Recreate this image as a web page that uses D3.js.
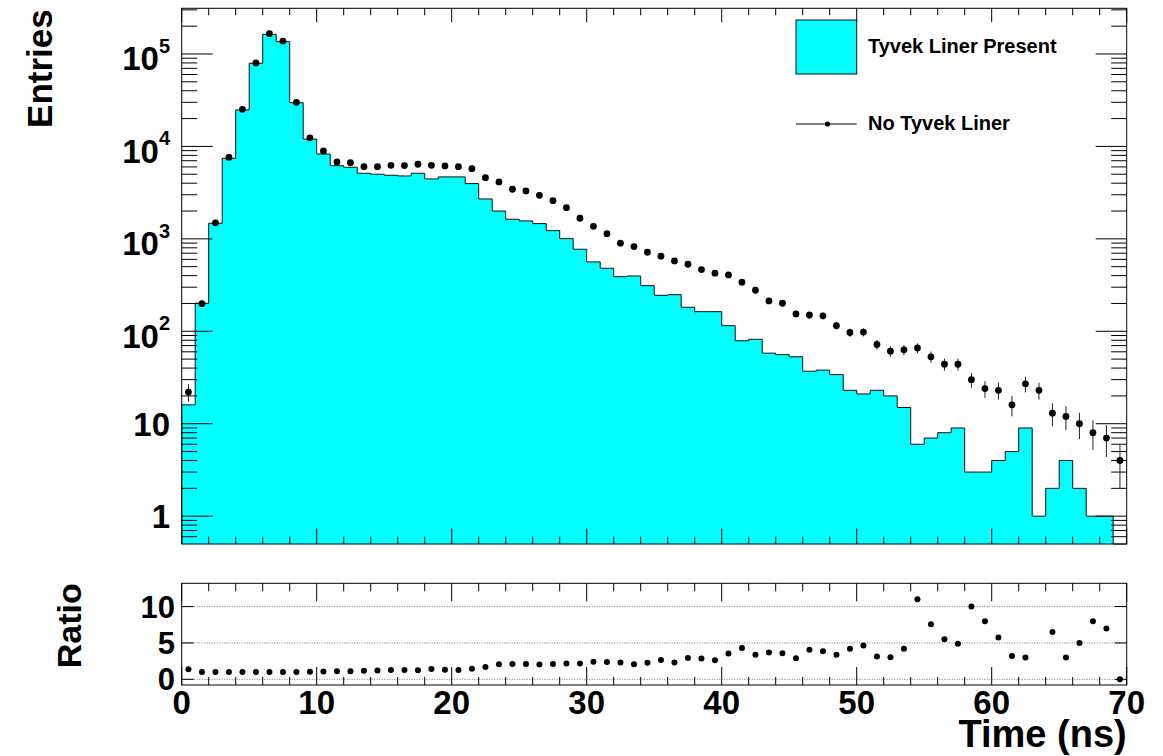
<!DOCTYPE html>
<html>
<head>
<meta charset="utf-8">
<script src="https://cdn.jsdelivr.net/npm/d3@7"></script>
<style>
  body { margin: 0; background: #fff; }
  text { font-family: "Liberation Sans", Arial, Helvetica, sans-serif; font-weight: bold; }
</style>
</head>
<body>
<div id="chart"></div>
<script>
// 1 ns bins from 0 to 70
const binEdges = d3.range(0, 71);

const tyvek = [16, 201, 1476, 7450, 24800, 79300, 163000, 136000, 29700, 12000,
    8280, 6190, 5950, 5120, 5000, 4880, 4790, 5120, 4450, 4680,
    4680, 3960, 2700, 2000, 1630, 1563, 1462, 1228, 1006, 772,
    563, 481, 390, 397, 312, 245, 249, 182, 163, 163,
    115, 79, 82, 58, 56, 53, 37, 38, 34, 23,
    21, 23, 20, 15, 6, 7, 8, 9, 3, 3,
    4, 5, 9, 1, 2, 4, 2, 1, 1, 0];

const noTyvek = [22, 199, 1490, 7600, 25200, 80000, 166000, 138000, 30000, 12400,
    8930, 6790, 6670, 6040, 6040, 6250, 6200, 6410, 6250, 6150,
    6040, 5750, 4590, 4130, 3440, 3300, 2960, 2590, 2175, 1670,
    1367, 1138, 897, 825, 716, 649, 577, 531, 465, 425,
    407, 340, 278, 213, 201, 154, 150, 147, 115, 97,
    98, 72, 61, 63, 66, 53, 44, 44, 30, 24,
    23, 16, 27, 23, 13, 12, 10, 8, 7, 4];

const xTickLabels = [0, 10, 20, 30, 40, 50, 60, 70];
const yMajorTicks = [1, 10, 100, 1000, 10000, 100000];
const ratioTicks = [0, 5, 10];
const legendLabels = ['Tyvek Liner Present', 'No Tyvek Liner'];

const width = 1163;
const height = 756;
const left = 181.7, right = 1126.7;
const top1 = 8.3, bottom1 = 544;
const top2 = 583.3, bottom2 = 685;

const svg = d3.select('#chart')
    .append('svg')
    .attr('width', width)
    .attr('height', height);

svg.append('rect')
    .attr('width', width)
    .attr('height', height)
    .attr('fill', '#fff');

const x = d3.scaleLinear().domain([0, 70]).range([left, right]);
const y = d3.scaleLog().domain([0.5, 312000]).range([bottom1, top1]);
const yr = d3.scaleLinear().domain([-0.78, 13.2]).range([bottom2, top2]);

const yv = v => v > 0 ? y(v) : bottom1;

// ---- upper pad: histogram ----
const steps = tyvek.map((v, i) => ({x0: binEdges[i], v: v}));
steps.push({x0: 70, v: 0});

const area = d3.area()
    .curve(d3.curveStepAfter)
    .x(d => x(d.x0))
    .y0(bottom1)
    .y1(d => yv(d.v));

svg.append('path')
    .datum(steps)
    .attr('d', area)
    .attr('fill', '#00ffff');

const outline = [[x(0), bottom1]];
tyvek.forEach((v, i) => {
    outline.push([x(binEdges[i]), yv(v)]);
    outline.push([x(binEdges[i + 1]), yv(v)]);
});
outline.push([x(70), bottom1]);

svg.append('path')
    .attr('d', d3.line()(outline))
    .attr('fill', 'none')
    .attr('stroke', '#111')
    .attr('stroke-width', 1);

// ticks upper pad
const xMinor = d3.range(0, 71, 2);
const xMajor = xTickLabels;

function xTicks(yPos, dir, majLen, minLen) {
    svg.append('g').selectAll('line')
        .data(xMinor)
        .enter()
        .append('line')
        .attr('x1', d => x(d)).attr('x2', d => x(d))
        .attr('y1', yPos)
        .attr('y2', d => yPos + dir * (xMajor.includes(d) ? majLen : minLen))
        .attr('stroke', '#000')
        .attr('stroke-width', 1);
}
xTicks(bottom1, -1, 15.5, 7.5);
xTicks(top1, 1, 14, 7);

const yMinor = [];
[-1, 0, 1, 2, 3, 4, 5].forEach(e => {
    for (let k = 2; k <= 9; k++) {
        const v = k * Math.pow(10, e);
        if (v > 0.5 && v < 312000) yMinor.push(v);
    }
});

function yTicks(xPos, dir) {
    const g = svg.append('g');
    g.selectAll('.maj')
        .data(yMajorTicks)
        .enter()
        .append('line')
        .attr('x1', xPos).attr('x2', xPos + dir * 31)
        .attr('y1', d => y(d)).attr('y2', d => y(d))
        .attr('stroke', '#000');
    g.selectAll('.min')
        .data(yMinor)
        .enter()
        .append('line')
        .attr('x1', xPos).attr('x2', xPos + dir * 15.5)
        .attr('y1', d => y(d)).attr('y2', d => y(d))
        .attr('stroke', '#000');
}
yTicks(left, 1);
yTicks(right, -1);

// data points with sqrt(N) errors
const pts = svg.append('g');
noTyvek.forEach((v, i) => {
    const cx = x(binEdges[i] + 0.5);
    const err = Math.sqrt(v);
    pts.append('line')
        .attr('x1', cx).attr('x2', cx)
        .attr('y1', yv(v + err))
        .attr('y2', v - err > 0.5 ? yv(v - err) : bottom1)
        .attr('stroke', '#222')
        .attr('stroke-width', 1);
    pts.append('circle')
        .attr('cx', cx)
        .attr('cy', yv(v))
        .attr('r', 3.4)
        .attr('fill', '#000');
});

svg.append('rect')
    .attr('x', left).attr('y', top1)
    .attr('width', right - left).attr('height', bottom1 - top1)
    .attr('fill', 'none')
    .attr('stroke', '#000')
    .attr('stroke-width', 1);

// y labels upper
const yLab = svg.append('g');
yMajorTicks.forEach(v => {
    const e = Math.round(Math.log10(v));
    if (e < 2) {
        yLab.append('text')
            .attr('x', 170)
            .attr('y', y(v) + 12)
            .attr('text-anchor', 'end')
            .style('font-size', '33px')
            .text(v);
    } else {
        const t = yLab.append('text')
            .attr('x', 170)
            .attr('y', y(v) + 16.5)
            .attr('text-anchor', 'end')
            .style('font-size', '33px');
        t.append('tspan').text('10');
        t.append('tspan')
            .attr('dy', -17.5)
            .style('font-size', '20px')
            .text(e);
    }
});

svg.append('text')
    .attr('transform', `translate(51.7, ${top1 + 1}) rotate(-90)`)
    .attr('text-anchor', 'end')
    .style('font-size', '35px')
    .text('Entries');

// legend
svg.append('rect')
    .attr('x', 796).attr('y', 20)
    .attr('width', 60.7).attr('height', 54)
    .attr('fill', '#00ffff')
    .attr('stroke', '#111');
svg.append('text')
    .attr('x', 868).attr('y', 52.5)
    .style('font-size', '20px')
    .text(legendLabels[0]);
svg.append('line')
    .attr('x1', 796).attr('x2', 856.7)
    .attr('y1', 124).attr('y2', 124)
    .attr('stroke', '#000');
svg.append('circle')
    .attr('cx', 827.5).attr('cy', 124)
    .attr('r', 2.6)
    .attr('fill', '#000');
svg.append('text')
    .attr('x', 868).attr('y', 129.5)
    .style('font-size', '20px')
    .text(legendLabels[1]);

// ---- lower pad: ratio ----
const ratio = noTyvek.map((v, i) => tyvek[i] > 0 ? v / tyvek[i] : 0);

svg.append('g').selectAll('line')
    .data(ratioTicks)
    .enter()
    .append('line')
    .attr('x1', left).attr('x2', right)
    .attr('y1', d => yr(d)).attr('y2', d => yr(d))
    .attr('stroke', '#777')
    .attr('stroke-width', 1)
    .attr('stroke-dasharray', '1 1.5');

xTicks(bottom2, -1, 18, 8);
xTicks(top2, 1, 18, 8);

[left, right].forEach((xp, k) => {
    svg.append('g').selectAll('line')
        .data(ratioTicks)
        .enter()
        .append('line')
        .attr('x1', xp).attr('x2', xp + (k === 0 ? 12 : -12))
        .attr('y1', d => yr(d)).attr('y2', d => yr(d))
        .attr('stroke', '#000');
});

svg.append('g').selectAll('circle')
    .data(ratio.map((r, i) => ({r: r, i: i})).filter(d => d.r <= 13.2))
    .enter()
    .append('circle')
    .attr('cx', d => x(binEdges[d.i] + 0.5))
    .attr('cy', d => yr(d.r))
    .attr('r', 3)
    .attr('fill', '#000');

svg.append('rect')
    .attr('x', left).attr('y', top2)
    .attr('width', right - left).attr('height', bottom2 - top2)
    .attr('fill', 'none')
    .attr('stroke', '#000')
    .attr('stroke-width', 1);

svg.append('g').selectAll('text')
    .data(ratioTicks)
    .enter()
    .append('text')
    .attr('x', 175)
    .attr('y', d => yr(d) + 11)
    .attr('text-anchor', 'end')
    .style('font-size', '31px')
    .text(d => d);

svg.append('g').selectAll('text')
    .data(xTickLabels)
    .enter()
    .append('text')
    .attr('x', d => x(d))
    .attr('y', 713.5)
    .attr('text-anchor', 'middle')
    .style('font-size', '33px')
    .text(d => d);

svg.append('text')
    .attr('x', right)
    .attr('y', 747)
    .attr('text-anchor', 'end')
    .style('font-size', '38px')
    .text('Time (ns)');

svg.append('text')
    .attr('transform', `translate(81, ${top2}) rotate(-90)`)
    .attr('text-anchor', 'end')
    .style('font-size', '34px')
    .text('Ratio');
</script>
</body>
</html>
